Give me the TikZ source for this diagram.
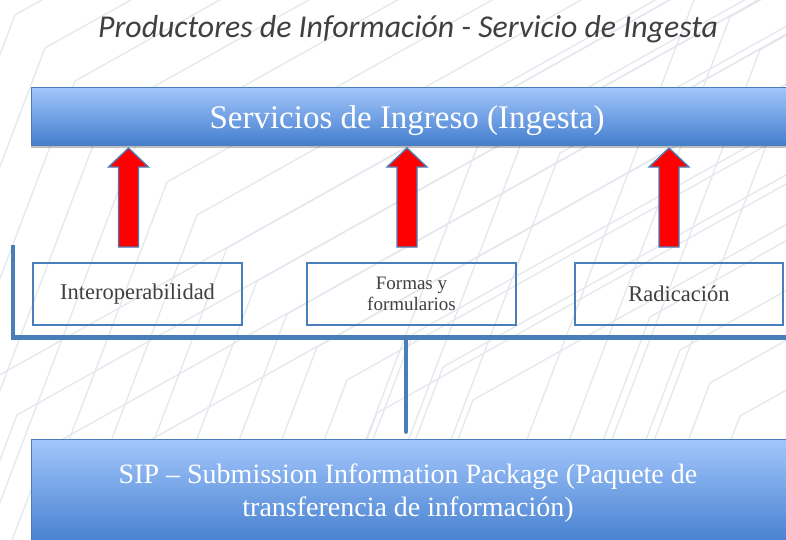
\documentclass[tikz,border=0pt]{standalone}
\usepackage{fontspec}
\setmainfont{Liberation Serif}
\newfontfamily\titlefont{Carlito}
\usetikzlibrary{shadows}
\definecolor{lineblue}{RGB}{74,126,187}
\definecolor{bartop}{RGB}{163,198,252}
\definecolor{barbot}{RGB}{68,127,206}
\definecolor{bgline}{RGB}{228,232,238}
\definecolor{txtgray}{RGB}{64,64,64}
\tikzset{
  bgpath/.style={bgline, line width=1.3pt},
  gradbar/.style={draw=lineblue, line width=0.8pt, top color=bartop, bottom color=barbot,
    inner sep=0pt, text=white, align=center,
    drop shadow={shadow xshift=0pt, shadow yshift=-3pt, opacity=0.25, fill=black}},
  labelbox/.style={draw=lineblue, line width=1.6pt, inner sep=0pt, text=txtgray, align=center,
    minimum height=62pt},
  redarrow/.style={fill=red, draw=lineblue, line width=1.3pt, line join=miter},
  bracketline/.style={lineblue, line width=4.5pt}
}
\begin{document}
\begin{tikzpicture}[x=1pt,y=-1pt]
\useasboundingbox (0,0) rectangle (786,539);
\fill[white] (0,0) rectangle (786,539);
% faint background pattern
\begin{scope}
\clip (0,0) rectangle (786,539);
\foreach \bx/\by in {15/15,45/48,75/81,105/114,135/147,
  167/182,197/215,227/248,257/281,287/314,
  317/347,347/380,377/413,
  -13/382,17/415,47/448,77/481,
  413/334,443/367,473/400,
  650/317,680/350,710/383,740/416,
  700/-16,730/17,760/50,790/83,
  500/87,530/120,560/153}{
  \draw[bgpath] ({\bx-0.38*(600-\by)},600) -- (\bx,\by) -- ({\bx+(\by+20)/0.56},-20);
}
\end{scope}
% title
\node[font=\titlefont\itshape\fontsize{31.8}{36}\selectfont, text=txtgray, anchor=base]
  (title) at (408,37) {Productores de Información - Servicio de Ingesta};
% top bar
\node[gradbar, minimum width=759pt, minimum height=58pt] (bar) at (410.5,116) {};
\node[text=white, font=\fontsize{33}{38}\selectfont, anchor=base] (bartext) at (407,128)
  {Servicios de Ingreso (Ingesta)};
% label boxes
\node[labelbox, minimum width=209pt, font=\fontsize{22.5}{26}\selectfont] (interop) at (137.5,294) {Interoperabilidad};
\node[labelbox, minimum width=209pt, font=\fontsize{19}{21}\selectfont] (formas) at (411.5,294) {Formas y\\formularios};
\node[labelbox, minimum width=208pt, font=\fontsize{22.5}{26}\selectfont] (radic) at (679,294) {Radicación};
% red up arrows
\foreach \cx in {128.5,407,669}{
  \draw[redarrow] ({\cx-10},247) -- ({\cx-10},167) -- ({\cx-20},167) -- (\cx,148)
    -- ({\cx+20},167) -- ({\cx+10},167) -- ({\cx+10},247) -- cycle;
}
% bottom box
\node[gradbar, minimum width=759pt, minimum height=106pt] (sip) at (410.5,492) {};
\node[text=white, font=\fontsize{28}{33}\selectfont, align=center] (siptext) at (408,493)
  {SIP – Submission Information Package (Paquete de\\transferencia de información)};
% bracket and connector
\coordinate (bktop) at (13,245);
\coordinate (bkcorner) at (13,337.5);
\coordinate (bkend) at (790,337.5);
\coordinate (bkmid) at (406,337.5);
\draw[bracketline, line join=miter] (bktop) -- (bkcorner) -- (bkend);
\draw[bracketline, line cap=round] (bkmid) -- ([yshift=7pt]sip.north -| bkmid);
\end{tikzpicture}
\end{document}
